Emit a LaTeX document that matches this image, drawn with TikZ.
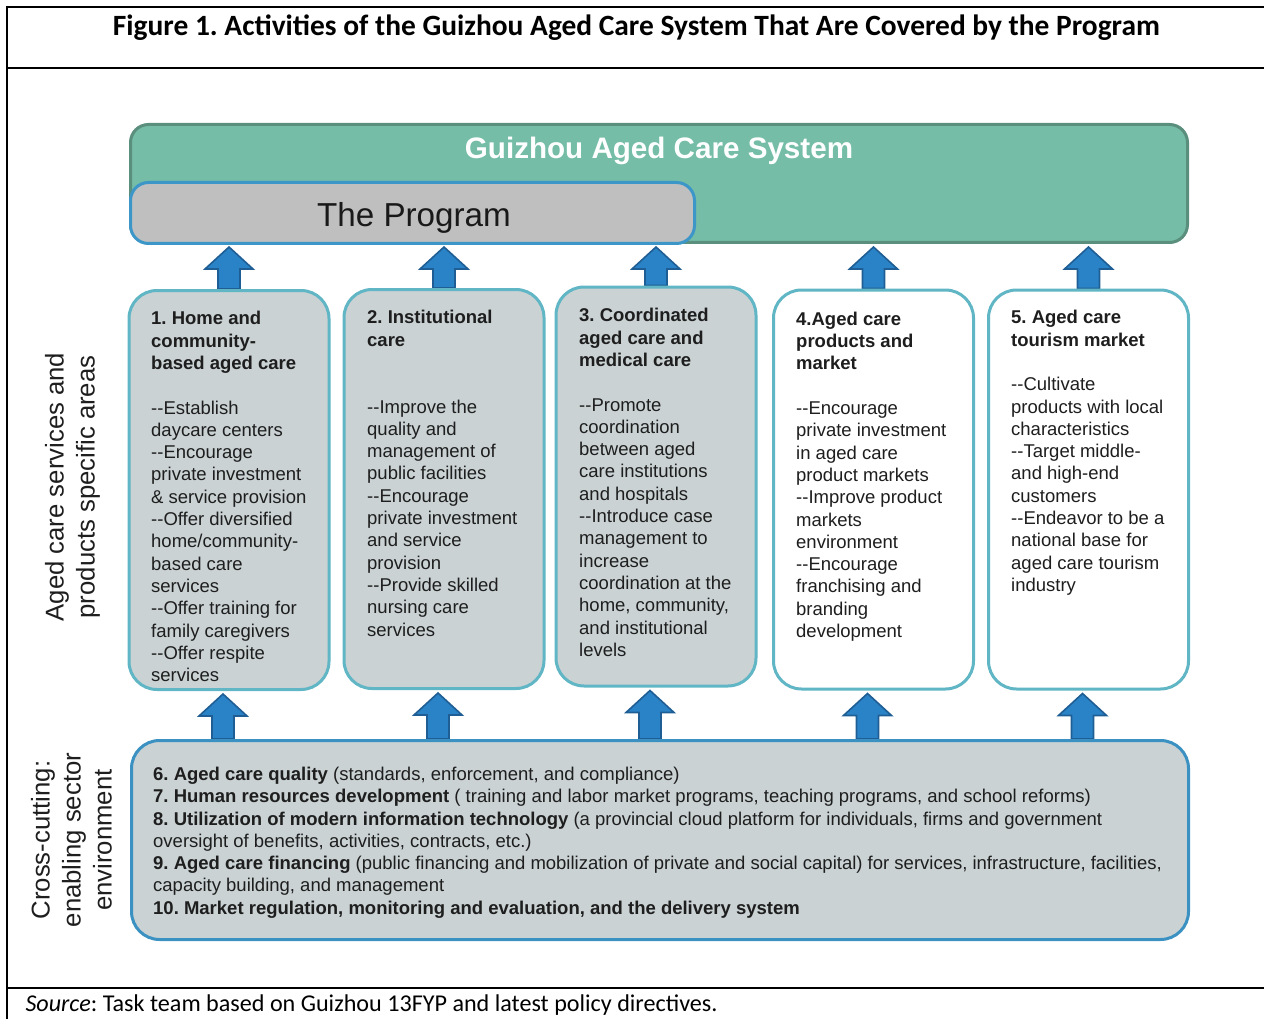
\documentclass[tikz,border=0pt]{standalone}
\usepackage{fontspec}
\setmainfont{Liberation Sans}
\newfontfamily\calfont{Carlito}
\usetikzlibrary{calc,backgrounds}
\frenchspacing
\definecolor{sysfill}{RGB}{117,189,167}
\definecolor{sysedge}{RGB}{90,142,125}
\definecolor{progfill}{RGB}{191,191,191}
\definecolor{progedge}{RGB}{60,151,200}
\definecolor{areafill}{RGB}{202,210,212}
\definecolor{areaedge}{RGB}{96,182,196}
\definecolor{crossedge}{RGB}{58,145,194}
\definecolor{arrowfill}{RGB}{42,131,198}
\definecolor{arrowedge}{RGB}{31,94,148}
\definecolor{bodytext}{RGB}{30,30,30}
% two plain hyphens, kept apart so they do not merge into a dash
\newcommand\dsh{\mbox{-}\mbox{-}}

\begin{document}
\begin{tikzpicture}[x=1pt,y=-1pt,
  frameline/.style={line width=2pt},
  areabox/.style={draw=areaedge, line width=3pt, rounded corners=28pt,
    minimum width=200pt, minimum height=399pt, inner sep=0pt},
  areatext/.style={anchor=north west, inner sep=0pt, align=left,
    text=bodytext, font=\fontsize{18.5}{22.3}\selectfont},
  sidelabel/.style={rotate=90, align=center, text=bodytext,
    font=\fontsize{25.7}{31}\selectfont},
  upblock/.style={draw=arrowedge, fill=arrowfill, line width=1.6pt, line join=miter,
    to path={let \p1=(\tikztostart), \p2=(\tikztotarget) in
      (\x1-11pt,\y1) -- (\x1-11pt,\y2-22pt) -- (\x1-24pt,\y2-22pt) -- (\x1,\y2)
      -- (\x1+24pt,\y2-22pt) -- (\x1+11pt,\y2-22pt) -- (\x1+11pt,\y1) -- cycle}}
]
\useasboundingbox (0,0) rectangle (1264,1019);

% table frame
\draw[frameline] (7,7) -- (1264,7);
\draw[frameline] (7,68) -- (1264,68);
\draw[frameline] (7,988) -- (1264,988);
\draw[frameline] (7,6) -- (7,1019);

\node[anchor=base, font=\calfont\bfseries\fontsize{26}{30}\selectfont] (figtitle) at (636.5,35.5)
  {\resizebox{1047pt}{!}{Figure 1. Activities of the Guizhou Aged Care System That Are Covered by the Program}};
\node[anchor=base west, font=\calfont\fontsize{22}{26}\selectfont] (source) at (22,1011)
  {\resizebox{692pt}{!}{\textit{Source}: Task team based on Guizhou 13FYP and latest policy directives.}};

% system and program
\node[draw=sysedge, fill=sysfill, line width=3pt, rounded corners=18pt,
  minimum width=1057pt, minimum height=118pt] (sys) at (659,183.5) {};
\node[anchor=base, text=white, font=\bfseries\fontsize{29.6}{34}\selectfont] (systitle) at (659,158.6)
  {Guizhou Aged Care System};
\node[draw=progedge, fill=progfill, line width=3pt, rounded corners=18pt,
  minimum width=564pt, minimum height=61pt] (prog) at (412.5,213) {};
\node[anchor=base, text=black!90, font=\fontsize{33.2}{38}\selectfont] (progtitle) at (414,227)
  {The Program};

% specific areas
\node[areabox, fill=areafill] (c1) at (229,490) {};
\node[areabox, fill=areafill] (c2) at (444,489) {};
\node[areabox, fill=areafill] (c3) at (656,486.5) {};
\node[areabox, fill=white] (c4) at (873.5,489.5) {};
\node[areabox, fill=white] (c5) at (1088.5,489.5) {};

% cross-cutting area
\node[draw=crossedge, fill=areafill, line width=3pt, rounded corners=28pt,
  minimum width=1057pt, minimum height=199pt] (cross) at (660,840) {};

% block arrows, under the boxes
\begin{scope}[on background layer]
  \foreach \i in {1,...,5} {
    \coordinate (ta\i) at ($(c\i.north |- sys.south)+(0,3)$);
    \draw[upblock] (c\i.north) to (ta\i);
    \coordinate (bb\i) at ($(c\i.south |- cross.north)+(-6,0)$);
    \coordinate (bt\i) at ($(c\i.south)+(-6,3)$);
    \draw[upblock] (bb\i) to (bt\i);
  }
\end{scope}

% side labels
\node[sidelabel] (arealabel) at (72.5,487) {Aged care services and\\products specific areas};
\node[sidelabel] (crosslabel) at (71.5,840) {Cross-cutting:\\enabling sector\\environment};

% texts of the areas
\node[areatext] (t1) at (151,309) {\strut\textbf{1. Home and}\\\textbf{community-}\\\textbf{based aged care}\\[22.3pt]
  \dsh Establish\\daycare centers\\\dsh Encourage\\private investment\\\& service provision\\
  \dsh Offer diversified\\home/community-\\based care\\services\\\dsh Offer training for\\
  family caregivers\\\dsh Offer respite\\services};
\node[areatext] (t2) at (367,308) {\strut\textbf{2. Institutional}\\\textbf{care}\\[44.6pt]
  \dsh Improve the\\quality and\\management of\\public facilities\\\dsh Encourage\\
  private investment\\and service\\provision\\\dsh Provide skilled\\nursing care\\services};
\node[areatext] (t3) at (579,306) {\strut\textbf{3. Coordinated}\\\textbf{aged care and}\\\textbf{medical care}\\[22.3pt]
  \dsh Promote\\coordination\\between aged\\care institutions\\and hospitals\\
  \dsh Introduce case\\management to\\increase\\coordination at the\\home, community,\\
  and institutional\\levels};
\node[areatext] (t4) at (796,309.5) {\strut\textbf{4.Aged care}\\\textbf{products and}\\\textbf{market}\\[22.3pt]
  \dsh Encourage\\private investment\\in aged care\\product markets\\\dsh Improve product\\
  markets\\environment\\\dsh Encourage\\franchising and\\branding\\development};
\node[areatext] (t5) at (1011,308) {\strut\textbf{5. Aged care}\\\textbf{tourism market}\\[22.3pt]
  \dsh Cultivate\\products with local\\characteristics\\\dsh Target middle-\\
  and high-end\\customers\\\dsh Endeavor to be a\\national base for\\aged care tourism\\industry};

\node[areatext] (crosstext) at (153,764.6) {\strut\textbf{6. Aged care quality} (standards, enforcement, and compliance)\\
  \textbf{7. Human resources development} ( training and labor market programs, teaching programs, and school reforms)\\
  \textbf{8. Utilization of modern information technology} (a provincial cloud platform for individuals, firms and government\\
  oversight of benefits, activities, contracts, etc.)\\
  \textbf{9. Aged care financing} (public financing and mobilization of private and social capital) for services, infrastructure, facilities,\\
  capacity building, and management\\
  \textbf{10. Market regulation, monitoring and evaluation, and the delivery system}};
\end{tikzpicture}
\end{document}
